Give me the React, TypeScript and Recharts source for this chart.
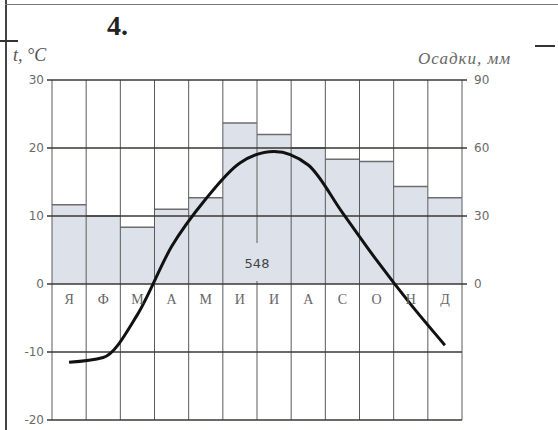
import {
  ComposedChart,
  Bar,
  Line,
  XAxis,
  YAxis,
  CartesianGrid,
} from 'recharts';

const months = ['Я', 'Ф', 'М', 'А', 'М', 'И', 'И', 'А', 'С', 'О', 'Н', 'Д'];
const precipitation = [35, 30, 25, 33, 38, 71, 66, 60, 55, 54, 43, 38];
const temperature = [-11.5, -10.8, -4.5, 5.5, 12.5, 17.8, 19.5, 17.5, 10.5, 3.5, -3, -9];
const tempTicks = [-20, -10, 0, 10, 20, 30];
const precipTicks = [0, 30, 60, 90];

const data = months.map((m, i) => ({
  month: m,
  key: i,
  precip: precipitation[i],
  temp: temperature[i],
}));

const total = precipitation.reduce((a, b) => a + b, 0);

const W = 558;
const H = 430;
const M = { top: 80, right: 56, bottom: 9, left: 12 };
const AXIS_W = 40;
const PLOT_TOP = M.top;
const PLOT_H = H - M.top - M.bottom - 1;
const ZERO_Y = PLOT_TOP + (30 / 50) * PLOT_H;

const BAR_FILL = '#dde2ea';
const GRID_DARK = '#3b3834';
const GRID_V = '#5a5a5a';
const TICK_STYLE = {
  fontFamily: 'DejaVu Sans, sans-serif',
  fontSize: 12,
  fill: '#6a6a6a',
};

function BarShape(props: any) {
  const { x, y, width, height } = props;
  return (
    <g>
      <rect x={x} y={y} width={width} height={height} fill={BAR_FILL} />
      <line x1={x} y1={y} x2={x + width} y2={y} stroke="#6d6d6d" strokeWidth={1.5} />
    </g>
  );
}

function MonthTick(props: any) {
  const { x, payload } = props;
  return (
    <text
      x={x}
      y={ZERO_Y + 15}
      textAnchor="middle"
      dominantBaseline="central"
      fontFamily="'Liberation Serif', serif"
      fontSize={14}
      fill="#666"
    >
      {months[payload.value]}
    </text>
  );
}

export default function App() {
  return (
    <div
      style={{
        position: 'fixed',
        left: 0,
        top: 0,
        width: W,
        height: H,
        background: '#fff',
        overflow: 'hidden',
      }}
    >
      {/* page frame bits */}
      <div style={{ position: 'absolute', left: 5, top: 0, width: 2, height: H, background: '#444' }} />
      <div style={{ position: 'absolute', left: 5, top: 4, width: W - 5, height: 1, background: '#777' }} />
      <div style={{ position: 'absolute', left: 0, top: 40, width: 18, height: 2, background: '#333' }} />
      <div style={{ position: 'absolute', left: 535, top: 45, width: 20, height: 2, background: '#333' }} />
      <div
        style={{
          position: 'absolute',
          left: 107,
          top: 10,
          fontFamily: "'Liberation Serif', serif",
          fontWeight: 'bold',
          fontSize: 28,
          color: '#222',
        }}
      >
        4.
      </div>
      <div
        style={{
          position: 'absolute',
          left: 13,
          top: 45,
          fontFamily: "'Liberation Serif', serif",
          fontStyle: 'italic',
          fontSize: 18,
          color: '#555',
        }}
      >
        t, °C
      </div>
      <div
        style={{
          position: 'absolute',
          left: 418,
          top: 49,
          fontFamily: "'Liberation Serif', serif",
          fontStyle: 'italic',
          fontSize: 17,
          letterSpacing: 1,
          color: '#666',
        }}
      >
        Осадки, мм
      </div>

      <div style={{ position: 'absolute', left: 0, top: 0 }}>
        <ComposedChart
          width={W}
          height={H}
          data={data}
          margin={M}
          barCategoryGap={0}
          barGap={0}
        >
          <XAxis
            dataKey="key"
            type="category"
            height={1}
            axisLine={false}
            tickLine={false}
            tick={(p: any) => <MonthTick {...p} />}
            interval={0}
          />
          <YAxis
            yAxisId="left"
            domain={[-20, 30]}
            ticks={tempTicks}
            width={AXIS_W}
            axisLine={false}
            tickSize={5}
            tickLine={{ stroke: GRID_DARK, strokeWidth: 1.5 }}
            tickMargin={3}
            tick={TICK_STYLE}
          />
          <YAxis
            yAxisId="right"
            orientation="right"
            domain={[-60, 90]}
            ticks={precipTicks}
            width={AXIS_W}
            axisLine={false}
            tickSize={5}
            tickLine={{ stroke: GRID_DARK, strokeWidth: 1.5 }}
            tickMargin={7}
            tick={TICK_STYLE}
          />
          <Bar
            yAxisId="right"
            dataKey="precip"
            shape={<BarShape />}
            isAnimationActive={false}
          />
          <CartesianGrid
            yAxisId="left"
            zIndex={350}
            stroke={GRID_V}
            horizontal={false}
            verticalCoordinatesGenerator={({ offset }: any) =>
              Array.from({ length: 13 }, (_, i) => offset.left + (i * offset.width) / 12)
            }
          />
          <CartesianGrid
            yAxisId="left"
            zIndex={350}
            stroke={GRID_DARK}
            strokeWidth={1.5}
            vertical={false}
          />
          <Line
            yAxisId="left"
            dataKey="temp"
            type="monotone"
            stroke="#111"
            strokeWidth={3}
            dot={false}
            isAnimationActive={false}
          />
        </ComposedChart>
      </div>

      {/* break in the Jun/Jul line and the yearly total */}
      <div style={{ position: 'absolute', left: 255, top: 243, width: 4, height: 38, background: BAR_FILL }} />
      <div
        style={{
          position: 'absolute',
          left: 257,
          top: 263,
          transform: 'translate(-50%, -50%)',
          fontFamily: 'DejaVu Sans, sans-serif',
          fontSize: 13,
          color: '#444',
        }}
      >
        {total}
      </div>
    </div>
  );
}
